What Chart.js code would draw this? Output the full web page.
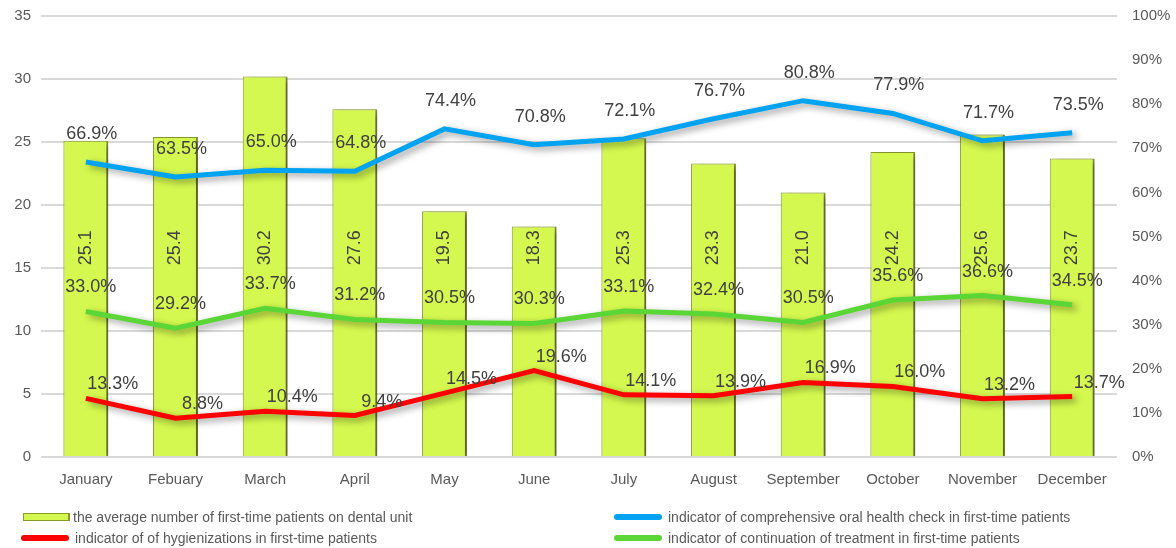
<!DOCTYPE html>
<html>
<head>
<meta charset="utf-8">
<script src="https://cdn.jsdelivr.net/npm/chart.js@4/dist/chart.umd.min.js"></script>
<style>
  html, body { margin: 0; padding: 0; background: #fff; }
  #wrap { position: relative; width: 1176px; height: 548px; font-family: "Liberation Sans", Arial, sans-serif; }
  #chartCanvas { position: absolute; left: 0; top: 0; }
  .leg { position: absolute; font-size: 14px; color: #595959; white-space: nowrap; line-height: 16px; }
  .mark { position: absolute; }
</style>
</head>
<body>
<div id="wrap">
  <canvas id="chartCanvas" width="1176" height="548"></canvas>
  <div id="legend"></div>
</div>
<script>
// Monthly data
var months = ['January', 'Febuary', 'March', 'April', 'May', 'June', 'July', 'August', 'September', 'October', 'November', 'December'];
var avgPatients = [25.1, 25.4, 30.2, 27.6, 19.5, 18.3, 25.3, 23.3, 21.0, 24.2, 25.6, 23.7];
var oralCheck = [66.9, 63.5, 65.0, 64.8, 74.4, 70.8, 72.1, 76.7, 80.8, 77.9, 71.7, 73.5];
var continuation = [33.0, 29.2, 33.7, 31.2, 30.5, 30.3, 33.1, 32.4, 30.5, 35.6, 36.6, 34.5];
var hygienizations = [13.3, 8.8, 10.4, 9.4, 14.5, 19.6, 14.1, 13.9, 16.9, 16.0, 13.2, 13.7];

var leftTicks = [0, 35, 5];
var rightTicks = [0, 100, 10];

var ctx = document.getElementById('chartCanvas').getContext('2d');
var FONT = '"Liberation Sans", Arial, sans-serif';

// drop shadow under bars and lines
var shadowPlugin = {
  id: 'shadow',
  beforeDatasetDraw: function (chart) {
    var c = chart.ctx;
    c.save();
    c.shadowColor = 'rgba(0,0,0,0.4)';
    c.shadowBlur = 7;
    c.shadowOffsetX = 4;
    c.shadowOffsetY = 3;
  },
  afterDatasetDraw: function (chart) {
    chart.ctx.restore();
  }
};

// value labels
var labelPlugin = {
  id: 'valueLabels',
  afterDatasetsDraw: function (chart) {
    var c = chart.ctx;
    var yL = chart.scales.y;
    c.save();
    c.fillStyle = '#404040';
    c.font = '18px ' + FONT;
    c.textAlign = 'center';
    c.textBaseline = 'middle';
    chart.data.datasets.forEach(function (ds, i) {
      var meta = chart.getDatasetMeta(i);
      meta.data.forEach(function (el, j) {
        if (ds.type === 'bar') {
          c.save();
          c.translate(el.x, yL.getPixelForValue(16.6));
          c.rotate(-Math.PI / 2);
          c.fillText(ds.data[j].toFixed(1), 0, 0);
          c.restore();
        } else {
          c.fillText(ds.data[j].toFixed(1) + '%', el.x + ds.labelOffset[0], el.y + ds.labelOffset[1]);
        }
      });
    });
    c.restore();
  }
};

// vertical axes: fixed width, no extra padding for the end labels
function fixAxis(width) {
  return function (s) {
    s.width = width;
    s.paddingTop = 0;
    s.paddingBottom = 0;
  };
}

var chart = new Chart(ctx, {
  type: 'bar',
  data: {
    labels: months,
    datasets: [
      {
        type: 'line',
        label: 'indicator of comprehensive oral health check in first-time patients',
        data: oralCheck,
        yAxisID: 'y1',
        borderColor: '#00a3f2',
        borderWidth: 5,
        pointRadius: 0,
        order: 1,
        labelOffset: [6, -28]
      },
      {
        type: 'line',
        label: 'indicator of continuation of treatment in first-time patients',
        data: continuation,
        yAxisID: 'y1',
        borderColor: '#5ad637',
        borderWidth: 5,
        pointRadius: 0,
        order: 2,
        labelOffset: [5, -24]
      },
      {
        type: 'line',
        label: 'indicator of of hygienizations in first-time patients',
        data: hygienizations,
        yAxisID: 'y1',
        borderColor: '#ff0000',
        borderWidth: 5,
        pointRadius: 0,
        order: 3,
        labelOffset: [27, -14]
      },
      {
        type: 'bar',
        label: 'the average number of first-time patients on dental unit',
        data: avgPatients,
        yAxisID: 'y',
        backgroundColor: '#d4f84f',
        borderColor: '#8a9b2c',
        borderWidth: { left: 1, right: 2, top: 1, bottom: 0 },
        borderSkipped: false,
        barPercentage: 0.5,
        categoryPercentage: 1,
        order: 10
      }
    ]
  },
  options: {
    responsive: false,
    animation: false,
    layout: { padding: { top: 16, bottom: 51, left: 0, right: 0 } },
    plugins: {
      legend: { display: false },
      tooltip: { enabled: false }
    },
    scales: {
      x: {
        grid: { display: false },
        border: { display: false },
        ticks: {
          color: '#595959',
          padding: 6,
          maxRotation: 0,
          font: { family: FONT, size: 15 }
        },
        afterFit: function (s) { s.height = 40; }
      },
      y: {
        position: 'left',
        min: leftTicks[0],
        max: leftTicks[1],
        ticks: {
          stepSize: leftTicks[2],
          color: '#595959',
          padding: 10,
          font: { family: FONT, size: 15 }
        },
        grid: { color: '#d9d9d9', lineWidth: 2, drawTicks: false },
        border: { display: false },
        afterFit: fixAxis(41)
      },
      y1: {
        position: 'right',
        min: rightTicks[0],
        max: rightTicks[1],
        ticks: {
          stepSize: rightTicks[2],
          color: '#595959',
          padding: 15,
          font: { family: FONT, size: 15 },
          callback: function (v) { return v + '%'; }
        },
        grid: { drawOnChartArea: false, drawTicks: false },
        border: { display: false },
        afterFit: fixAxis(59)
      }
    }
  },
  plugins: [shadowPlugin, labelPlugin]
});

// legend below the plot, two columns
var legendSpots = [
  { ds: 3, x: 23, y: 517 },
  { ds: 0, x: 614, y: 517 },
  { ds: 2, x: 21, y: 538 },
  { ds: 1, x: 614, y: 538 }
];
var legendEl = document.getElementById('legend');
legendSpots.forEach(function (spot) {
  var ds = chart.data.datasets[spot.ds];
  var m = document.createElement('div');
  m.className = 'mark';
  if (ds.type === 'bar') {
    m.style.cssText = 'left:' + spot.x + 'px;top:' + (spot.y - 4) + 'px;width:44px;height:6px;background:' +
      ds.backgroundColor + ';border:1px solid ' + ds.borderColor + ';border-right-width:2px;';
  } else {
    m.style.cssText = 'left:' + spot.x + 'px;top:' + (spot.y - 3) + 'px;width:48px;height:6px;border-radius:3px;background:' + ds.borderColor + ';';
  }
  legendEl.appendChild(m);
  var t = document.createElement('div');
  t.className = 'leg';
  t.style.left = (spot.x + (ds.type === 'bar' ? 50 : 54)) + 'px';
  t.style.top = (spot.y - 8) + 'px';
  t.textContent = ds.label;
  legendEl.appendChild(t);
});
</script>
</body>
</html>
